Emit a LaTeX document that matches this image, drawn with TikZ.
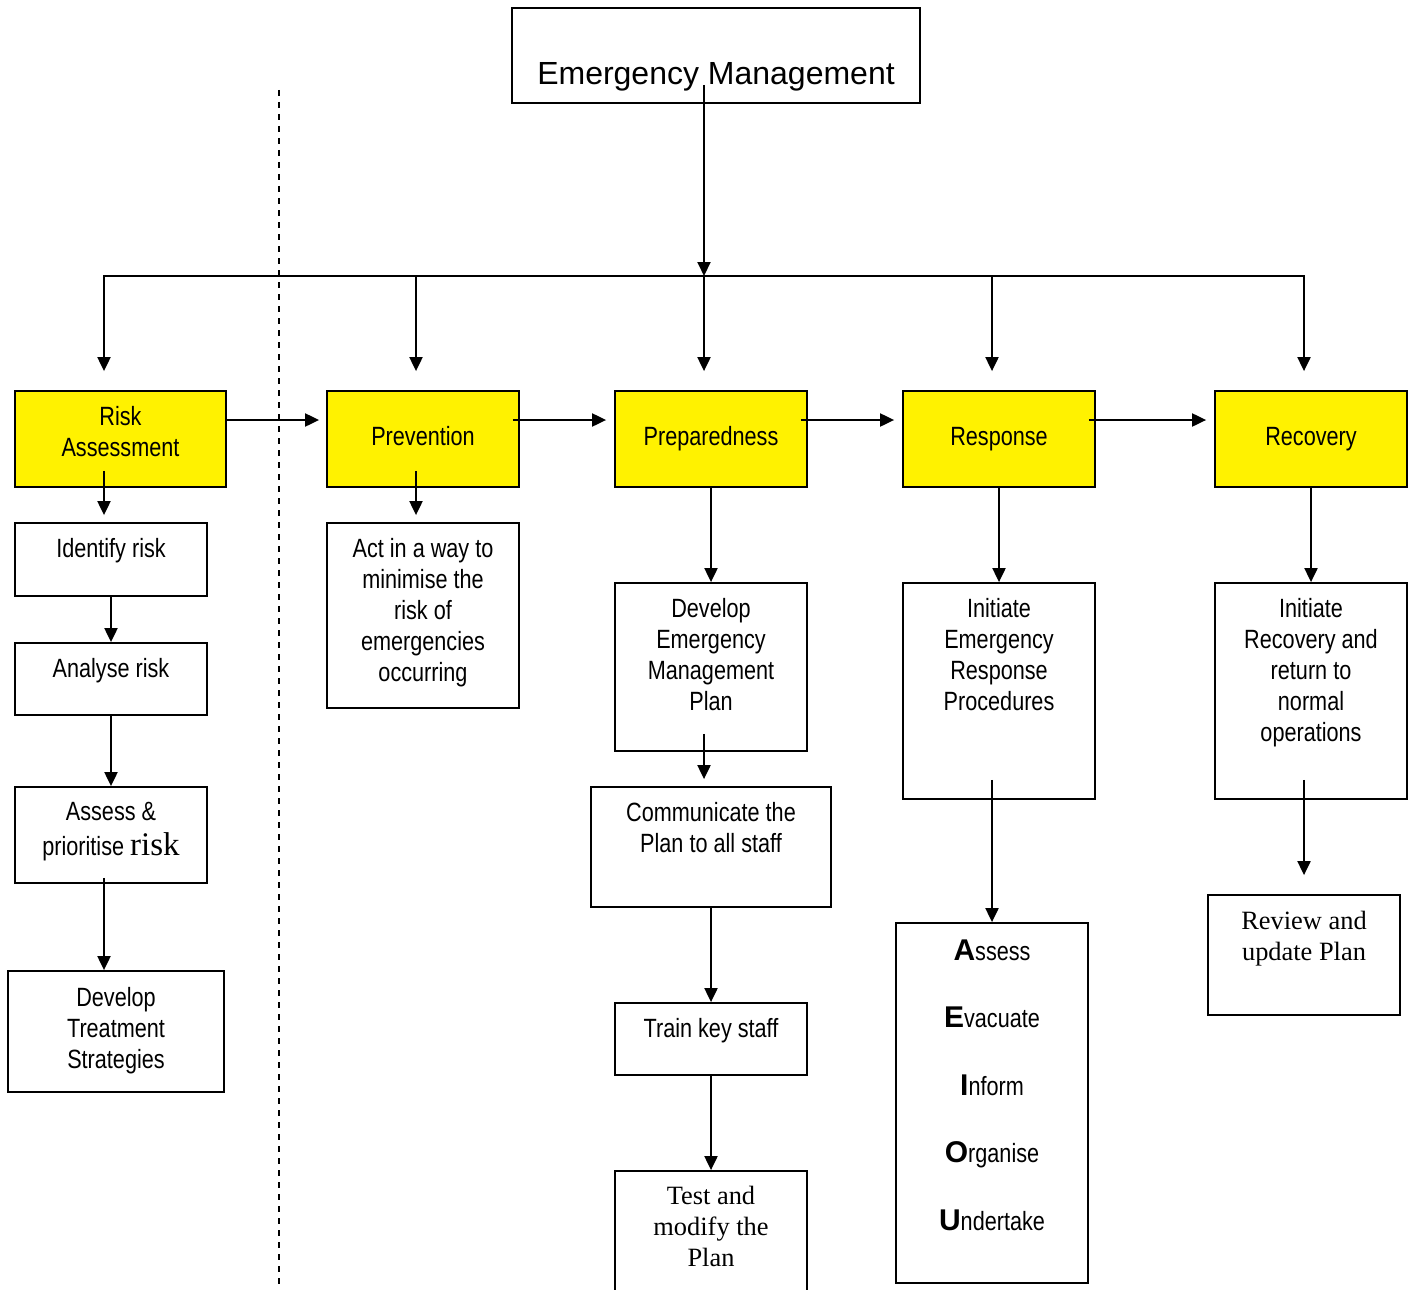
\documentclass[tikz,border=0pt]{standalone}
\usepackage{fontspec}
\setmainfont{Liberation Sans}[FakeStretch=0.82]
\newfontfamily\widesans{Liberation Sans}
\newfontfamily\timesfont{Liberation Serif}
\usetikzlibrary{positioning,arrows.meta}

\begin{document}
\begin{tikzpicture}[x=0.5pt,y=-0.5pt]
\tikzstyle{phase}=[rectangle, line width=0.9pt, draw=black, fill=yellow, minimum width=96pt, minimum height=48pt]
\tikzstyle{task}=[rectangle, line width=0.9pt, draw=black, minimum width=96pt]
\tikzstyle{txt}=[inner sep=0pt, align=center, font=\fontsize{13.2}{15.5}\selectfont]
\tikzstyle{serif}=[inner sep=0pt, align=center, font=\timesfont\fontsize{13.2}{15.5}\selectfont]
\tikzstyle{connect}=[-{Triangle[length=7pt,width=6.5pt]}, line width=1pt]
\newcommand{\bigini}[1]{{\widesans\bfseries\fontsize{15}{15}\selectfont #1}}
\useasboundingbox (0,0) rectangle (1416,1289);

	% top box
	\node[task, minimum width=204pt, minimum height=47.5pt] (em) at (716,55.5) {};
	\node[anchor=base, inner sep=0pt, font=\widesans\fontsize{16}{19}\selectfont] (emtxt) at (716,85) {Emergency Management};
	\coordinate (bus) at (704,276);
	\coordinate (dtop) at (279,90);
	\coordinate (dbot) at (279,1289);

	% phases
	\node[phase, minimum width=105.5pt] (ra) at (120.5,439) {};
	\node[txt, below=8pt of ra.north] (ratxt) {Risk\\Assessment};
	\node[phase] (prev) at (423,439) {};
	\node[txt, anchor=base] (prevtxt) at ([yshift=-3pt]prev.center) {Prevention};
	\node[phase] (prep) at (711,439) {};
	\node[txt, anchor=base] (preptxt) at ([yshift=-3pt]prep.center) {Preparedness};
	\node[phase] (resp) at (999,439) {};
	\node[txt, anchor=base] (resptxt) at ([yshift=-3pt]resp.center) {Response};
	\node[phase] (rec) at (1311,439) {};
	\node[txt, anchor=base] (rectxt) at ([yshift=-3pt]rec.center) {Recovery};

	% risk assessment column
	\node[task, minimum height=36.5pt] (idr) at (111,559.5) {};
	\node[txt, below=8pt of idr.north] (idrtxt) {Identify risk};
	\node[task, minimum height=36pt] (ana) at (111,679) {};
	\node[txt, below=8pt of ana.north] (anatxt) {Analyse risk};
	\node[task, minimum height=48pt] (asp) at (111,835) {};
	\node[txt, below=8pt of asp.north, font=\fontsize{13.2}{17.5}\selectfont] (asptxt) {Assess \&\\prioritise {\timesfont\fontsize{16.5}{17.5}\selectfont risk}};
	\node[task, minimum width=108pt, minimum height=60.5pt] (dts) at (116,1031.5) {};
	\node[txt, below=8.5pt of dts.north] (dtstxt) {Develop\\Treatment\\Strategies};

	% prevention column
	\node[task, minimum height=92.5pt] (act) at (423,615.5) {};
	\node[txt, below=8pt of act.north] (acttxt) {Act in a way to\\minimise the\\risk of\\emergencies\\occurring};

	% preparedness column
	\node[task, minimum height=84pt] (dev) at (711,667) {};
	\node[txt, below=8pt of dev.north] (devtxt) {Develop\\Emergency\\Management\\Plan};
	\node[task, minimum width=120pt, minimum height=60pt] (comm) at (711,847) {};
	\node[txt, below=8pt of comm.north] (commtxt) {Communicate the\\Plan to all staff};
	\node[task, minimum height=36pt] (train) at (711,1039) {};
	\node[txt, below=8pt of train.north] (traintxt) {Train key staff};
	\node[task, minimum height=64.5pt] (test) at (711,1235.5) {};
	\node[serif, below=8pt of test.north] (testtxt) {Test and\\modify the\\Plan};

	% response column
	\node[task, minimum height=108pt] (ierp) at (999,691) {};
	\node[txt, below=8pt of ierp.north] (ierptxt) {Initiate\\Emergency\\Response\\Procedures};
	\node[task, minimum height=180pt] (aeiou) at (992,1103) {};
	\node[txt, below=8.5pt of aeiou.north, font=\fontsize{13.2}{33.75}\selectfont] (aeioutxt) {\bigini{A}ssess\\\bigini{E}vacuate\\\bigini{I}nform\\\bigini{O}rganise\\\bigini{U}ndertake};

	% recovery column
	\node[task, minimum height=108pt] (irec) at (1311,691) {};
	\node[txt, below=8pt of irec.north] (irectxt) {Initiate\\Recovery and\\return to\\normal\\operations};
	\node[task, minimum height=60pt] (rev) at (1304,955) {};
	\node[serif, below=8.5pt of rev.north] (revtxt) {Review and\\update Plan};

	\draw[dashed, line width=0.8pt, dash pattern=on 3pt off 3pt] (dtop) -- (dbot);

	\path[connect]
		([xshift=-6pt]emtxt.base) edge [] (bus);
	\draw[connect] (bus) -| ([xshift=-8.25pt,yshift=9.5pt]ra.north);
	\foreach \p in {prev,prep,resp,rec}
		\draw[connect] (bus) -| ([xshift=-3.5pt,yshift=9.5pt]\p.north);

	\path[connect]
		([yshift=9.5pt]ra.east) edge [] ([xshift=-3.5pt,yshift=9.5pt]prev.west)
		([xshift=-3.5pt,yshift=9.5pt]prev.east) edge [] ([xshift=-4pt,yshift=9.5pt]prep.west)
		([xshift=-3.5pt,yshift=9.5pt]prep.east) edge [] ([xshift=-4pt,yshift=9.5pt]resp.west)
		([xshift=-3.5pt,yshift=9.5pt]resp.east) edge [] ([xshift=-4pt,yshift=9.5pt]rec.west);

	\path[connect]
		([xshift=-8.25pt,yshift=8.5pt]ra.south) edge [] ([xshift=-3.5pt,yshift=3.5pt]idr.north)
		(idr) edge [] (ana)
		(ana) edge [] (asp)
		([xshift=-3.5pt,yshift=3pt]asp.south) edge [] ([xshift=-6pt]dts.north)
		([xshift=-3.5pt,yshift=8.5pt]prev.south) edge [] ([xshift=-3.5pt,yshift=3.5pt]act.north)
		(prep) edge [] (dev)
		([xshift=-3.5pt,yshift=9pt]dev.south) edge [] ([xshift=-3.5pt,yshift=3.5pt]comm.north)
		(comm) edge [] (train)
		(train) edge [] (test.north)
		(resp) edge [] (ierp)
		([xshift=-3.5pt,yshift=10pt]ierp.south) edge [] (aeiou.north)
		(rec) edge [] (irec)
		([xshift=-3.5pt,yshift=10pt]irec.south) edge [] ([yshift=9.5pt]rev.north);

\end{tikzpicture}
\end{document}
